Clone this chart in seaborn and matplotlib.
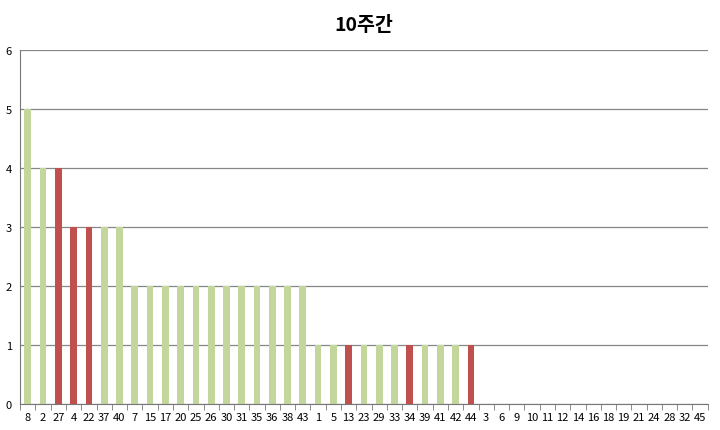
import seaborn as sns
import matplotlib.pyplot as plt
import numpy as np
import pandas as pd

# Draw counts over 10 weeks
numbers = ['8', '2', '27', '4', '22', '37', '40', '7', '15', '17', '20', '25', '26',
           '30', '31', '35', '36', '38', '43', '1', '5', '13', '23', '29', '33', '34',
           '39', '41', '42', '44', '3', '6', '9', '10', '11', '12', '14', '16', '18',
           '19', '21', '24', '28', '32', '45']
counts = [5, 4, 4, 3, 3, 3, 3, 2, 2, 2, 2, 2, 2,
          2, 2, 2, 2, 2, 2, 1, 1, 1, 1, 1, 1, 1,
          1, 1, 1, 1, 0, 0, 0, 0, 0, 0, 0, 0, 0,
          0, 0, 0, 0, 0, 0]
highlight = ['27', '4', '22', '13', '34', '44']

df = pd.DataFrame({'number': numbers, 'count': counts})
df['group'] = np.where(df['number'].isin(highlight), 'red', 'green')

sns.set_style("white")
plt.rcParams['font.family'] = ['Noto Sans CJK KR', 'DejaVu Sans']

fig = plt.figure(figsize=(7.2, 4.31), dpi=100)
ax = fig.add_axes([0.028, 0.060, 0.955, 0.822])

sns.barplot(x='number', y='count', hue='group', data=df, order=numbers,
            palette={'green': '#C3D69B', 'red': '#C0504D'}, dodge=False,
            width=0.44, legend=False, ax=ax, saturation=1, linewidth=0)

ax.set_ylim(0, 6)
ax.set_xlim(-0.5, len(numbers) - 0.5)
ax.set_yticks(range(7))
ax.yaxis.grid(True, color='#878787', linewidth=0.9)
ax.set_axisbelow(True)
for s in ['top', 'right']:
    ax.spines[s].set_visible(False)
ax.spines['left'].set_color('#777777')
ax.spines['bottom'].set_color('#777777')

# Excel-style ticks between categories
ax.set_xticks(np.arange(-0.5, len(numbers)), minor=True)
ax.tick_params(axis='x', which='minor', bottom=True, length=4, color='#777777', direction='out')
ax.tick_params(axis='x', which='major', bottom=False, length=0, labelsize=8, pad=6, labelcolor='black')
ax.tick_params(axis='y', which='major', left=False, length=0, labelsize=8,
               labelcolor='black', pad=6)

ax.set_xlabel('')
ax.set_ylabel('')
ax.set_title('10주간', fontsize=14, fontweight='heavy', pad=14, color='black')

plt.savefig('out.png', dpi=100)
